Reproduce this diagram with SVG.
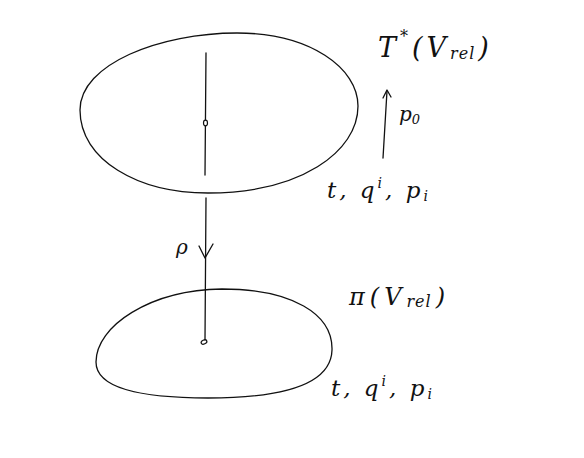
<svg xmlns="http://www.w3.org/2000/svg" width="584" height="458" viewBox="0 0 584 458">
<style>
.ln{fill:none;stroke:#111;stroke-width:1.3;stroke-linecap:round;stroke-linejoin:round}
.pt{fill:#fff;stroke:#111;stroke-width:1.2}
.tx{font-family:"DejaVu Serif","Liberation Serif",serif;font-style:italic;fill:#111}
.sb{letter-spacing:1px}
</style>
<rect width="584" height="458" fill="#fff"/>
<g id="top-space">
<path class="ln" d="M237 33 C310 33 358 68 358 106 C358 152 300 193 208 193 C138 193 80 160 80 110 C80 64 160 33 237 33 Z"/>
<line class="ln" x1="206" y1="53" x2="205" y2="175"/>
<ellipse class="pt" cx="205.5" cy="123" rx="2" ry="2.8"/>
<text class="tx" x="378" y="57" font-size="27" letter-spacing="4">T<tspan font-size="16" dy="-15">*</tspan><tspan dy="15">(V</tspan><tspan class="sb" font-size="16" dy="2">rel</tspan><tspan dx="3" dy="-2">)</tspan></text>
<text class="tx" x="327" y="198" font-size="23" letter-spacing="3">t, q<tspan font-size="14" dy="-10">i</tspan><tspan dy="10">, p</tspan><tspan font-size="14" dy="3">i</tspan></text>
</g>
<g id="bottom-space">
<path class="ln" d="M222 289 C292 289 333 314 332 350 C331 385 280 398 208 398 C140 398 96 388 96 362 C96 326 150 290 222 289 Z"/>
<ellipse class="pt" cx="204" cy="342" rx="3" ry="2" transform="rotate(-25 204 342)"/>
<text class="tx" x="349" y="305" font-size="24" letter-spacing="5">π(V<tspan class="sb" font-size="16" dy="2">rel</tspan><tspan dx="4" dy="-2">)</tspan></text>
<text class="tx" x="331" y="396" font-size="23" letter-spacing="3">t, q<tspan font-size="14" dy="-10">i</tspan><tspan dy="10">, p</tspan><tspan font-size="14" dy="3">i</tspan></text>
</g>
<g id="connectors">
<line class="ln" x1="206" y1="198" x2="205" y2="340"/>
<path class="ln" d="M199 246 L205 258 L213 244"/>
<text class="tx" x="176" y="254" font-size="20">ρ</text>
<line class="ln" x1="383" y1="158" x2="387" y2="91"/>
<path class="ln" d="M383 98 L387 90 L391 97"/>
<text class="tx" x="399" y="121" font-size="20">p<tspan font-size="13" dy="3">0</tspan></text>
</g>
</svg>
